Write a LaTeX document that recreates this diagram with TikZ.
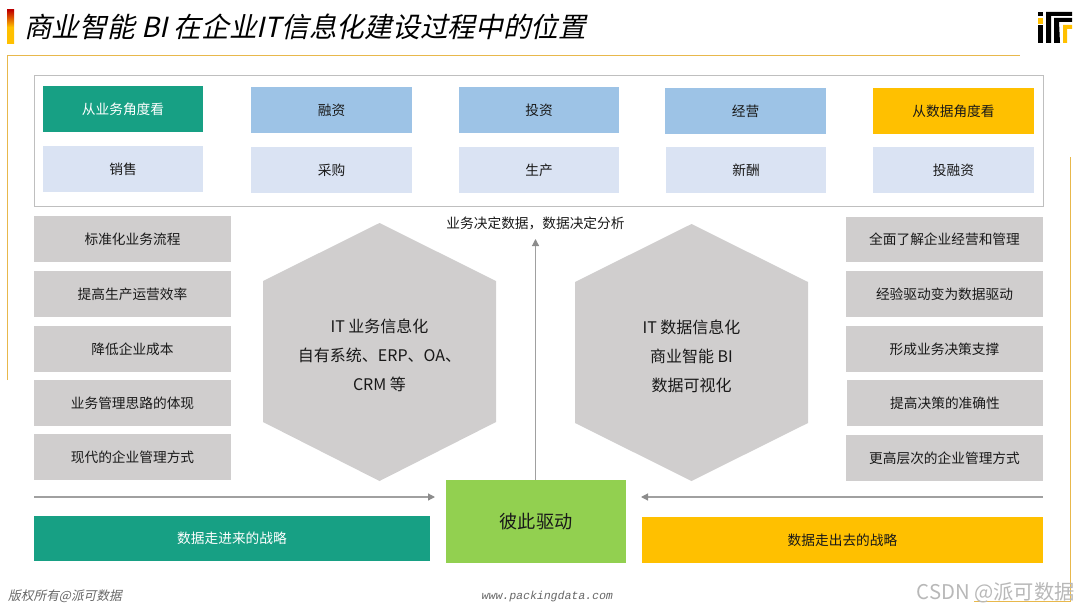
\documentclass[tikz,border=0pt]{standalone}
\usepackage{fontspec}
\setmainfont{Noto Sans CJK SC}
\newfontfamily\cjkslant[FakeSlant=0.22]{Noto Sans CJK SC}
\newfontfamily\monoslant[FakeSlant=0.2]{Liberation Mono}
\definecolor{teal1}{HTML}{17A084}
\definecolor{blue1}{HTML}{9DC3E6}
\definecolor{blue2}{HTML}{DAE3F3}
\definecolor{gold1}{HTML}{FFC000}
\definecolor{gray1}{HTML}{D0CECE}
\definecolor{green1}{HTML}{92D050}
\definecolor{frame1}{HTML}{E8B84C}
\definecolor{line1}{HTML}{A0A0A0}
\definecolor{head1}{HTML}{8C8C8C}
\usetikzlibrary{arrows.meta}
\tikzset{
  bx/.style={inner sep=0pt,outer sep=0pt,align=center,font=\fontsize{13.7}{16}\selectfont,text=black!90},
  tealbox/.style={bx,fill=teal1,text=white},
  bluebox/.style={bx,fill=blue1},
  lightbox/.style={bx,fill=blue2},
  goldbox/.style={bx,fill=gold1},
  graybox/.style={bx,fill=gray1},
  hexfill/.style={fill=gray1},
  hextext/.style={inner sep=0pt,align=center,font=\fontsize{16}{29}\selectfont,text=black!90},
  flow/.style={draw=line1,line width=1.2pt,-{Triangle[length=7pt,width=7pt,color=head1]}},
  framel/.style={draw=frame1,line width=1pt},
}
\newcommand{\bxx}[7]{\node[#2,minimum width={(#5-#3)*1pt},minimum height={(#6-#4)*1pt}] (#1) at ({(#3+#5)/2},{(#4+#6)/2}) {\raisebox{-0.8pt}{#7}};}
\begin{document}
\begin{tikzpicture}[x=1pt,y=-1pt]
\useasboundingbox (0,0) rectangle (1078,610);
% title
\shade[top color=red!75!black,bottom color=gold1,middle color=gold1] (7,10) rectangle (14,44);
\node[anchor=west,inner sep=0pt,font=\cjkslant\fontsize{27.7}{32}\selectfont] (title) at (24,27) {商业智能 BI 在企业IT信息化建设过程中的位置};
% frame
\coordinate (f1) at (7.5,380);\coordinate (f2) at (7.5,55.5);\coordinate (f3) at (1020,55.5);
\coordinate (f4) at (1070.5,157);\coordinate (f5) at (1070.5,601);\coordinate (f6) at (974,601);
\draw[framel] (f1) -- (f2) -- (f3);
\draw[framel] (f4) -- (f5) -- (f6);
% logo
\fill (1038,12) rectangle (1043,16);
\fill[gold1] (1038,18) rectangle (1043,24);
\fill (1038,25) rectangle (1043,43);
\fill (1046,43) -- (1046,12) -- (1072,12) -- (1072,16) -- (1051,16) -- (1051,43) -- cycle;
\fill (1054,43) -- (1054,18) -- (1072,18) -- (1072,22) -- (1059,22) -- (1060,43) -- cycle;
\fill[gold1] (1063,43) -- (1063,25) -- (1072,25) -- (1072,29) -- (1067,29) -- (1067,43) -- cycle;
% top panel
\draw[draw=black!25,line width=0.8pt] (34.5,75.5) rectangle (1043,206);
\bxx{a1}{tealbox}{43}{86}{203}{132}{从业务角度看}
\bxx{a2}{bluebox}{251}{87}{412}{133}{融资}
\bxx{a3}{bluebox}{459}{87}{619}{133}{投资}
\bxx{a4}{bluebox}{665}{88}{826}{134}{经营}
\bxx{a5}{goldbox}{873}{88}{1034}{134}{从数据角度看}
\bxx{b1}{lightbox}{43}{146}{203}{192}{销售}
\bxx{b2}{lightbox}{251}{147}{412}{193}{采购}
\bxx{b3}{lightbox}{459}{147}{619}{193}{生产}
\bxx{b4}{lightbox}{666}{147}{826}{193}{新酬}
\bxx{b5}{lightbox}{873}{147}{1034}{193}{投融资}
% left list
\bxx{l1}{graybox}{34}{216}{231}{262}{标准化业务流程}
\bxx{l2}{graybox}{34}{271}{231}{317}{提高生产运营效率}
\bxx{l3}{graybox}{34}{326}{231}{372}{降低企业成本}
\bxx{l4}{graybox}{34}{380}{231}{426}{业务管理思路的体现}
\bxx{l5}{graybox}{34}{434}{231}{480}{现代的企业管理方式}
% right list
\bxx{r1}{graybox}{846}{217}{1043}{262}{全面了解企业经营和管理}
\bxx{r2}{graybox}{846}{271}{1043}{317}{经验驱动变为数据驱动}
\bxx{r3}{graybox}{846}{326}{1043}{372}{形成业务决策支撑}
\bxx{r4}{graybox}{847}{380}{1043}{426}{提高决策的准确性}
\bxx{r5}{graybox}{846}{435}{1043}{481}{更高层次的企业管理方式}
% hexagons
\fill[hexfill] (379.5,223) -- (496,281) -- (496,422) -- (379.5,481) -- (263,422) -- (263,281) -- cycle;
\node[hextext] (hl) at (379.5,355.5) {IT 业务信息化\\自有系统、ERP、OA、\\CRM 等};
\fill[hexfill] (691.5,224) -- (808,282) -- (808,423) -- (691.5,481) -- (575,423) -- (575,282) -- cycle;
\node[hextext] (hr) at (691.5,356.5) {IT 数据信息化\\商业智能 BI\\数据可视化};
% bottom
\bxx{drive}{bx,fill=green1,font=\fontsize{18.2}{20}\selectfont}{446}{480}{626}{563}{彼此驱动}
\bxx{s1}{tealbox}{34}{516}{430}{561}{数据走进来的战略}
\bxx{s2}{goldbox}{642}{517}{1043}{563}{数据走出去的战略}
\node[inner sep=0pt,font=\fontsize{13.7}{16}\selectfont,text=black!90] (cap) at (535.5,223) {业务决定数据\char"FF0C 数据决定分析};
% connectors
\coordinate (u1) at (535.5,480);\coordinate (u2) at (535.5,239);
\draw[flow] (u1) -- (u2);
\coordinate (la) at (34,497);\coordinate (lb) at (435,497);
\draw[flow] (la) -- (lb);
\coordinate (ra) at (1043,497);\coordinate (rb) at (641,497);
\draw[flow] (ra) -- (rb);
% footer
\node[anchor=west,inner sep=0pt,text=black!60,font=\cjkslant\fontsize{12.7}{14}\selectfont] (c1) at (8,596) {版权所有@派可数据};
\node[anchor=west,inner sep=0pt,text=black!60,font=\monoslant\fontsize{11.5}{14}\selectfont] (c2) at (481,597) {www.packingdata.com};
\node[anchor=east,inner sep=0pt,text=black!28,font=\fontsize{20.3}{24}\selectfont] (wm) at (1075,593) {CSDN @派可数据};
\end{tikzpicture}
\end{document}
